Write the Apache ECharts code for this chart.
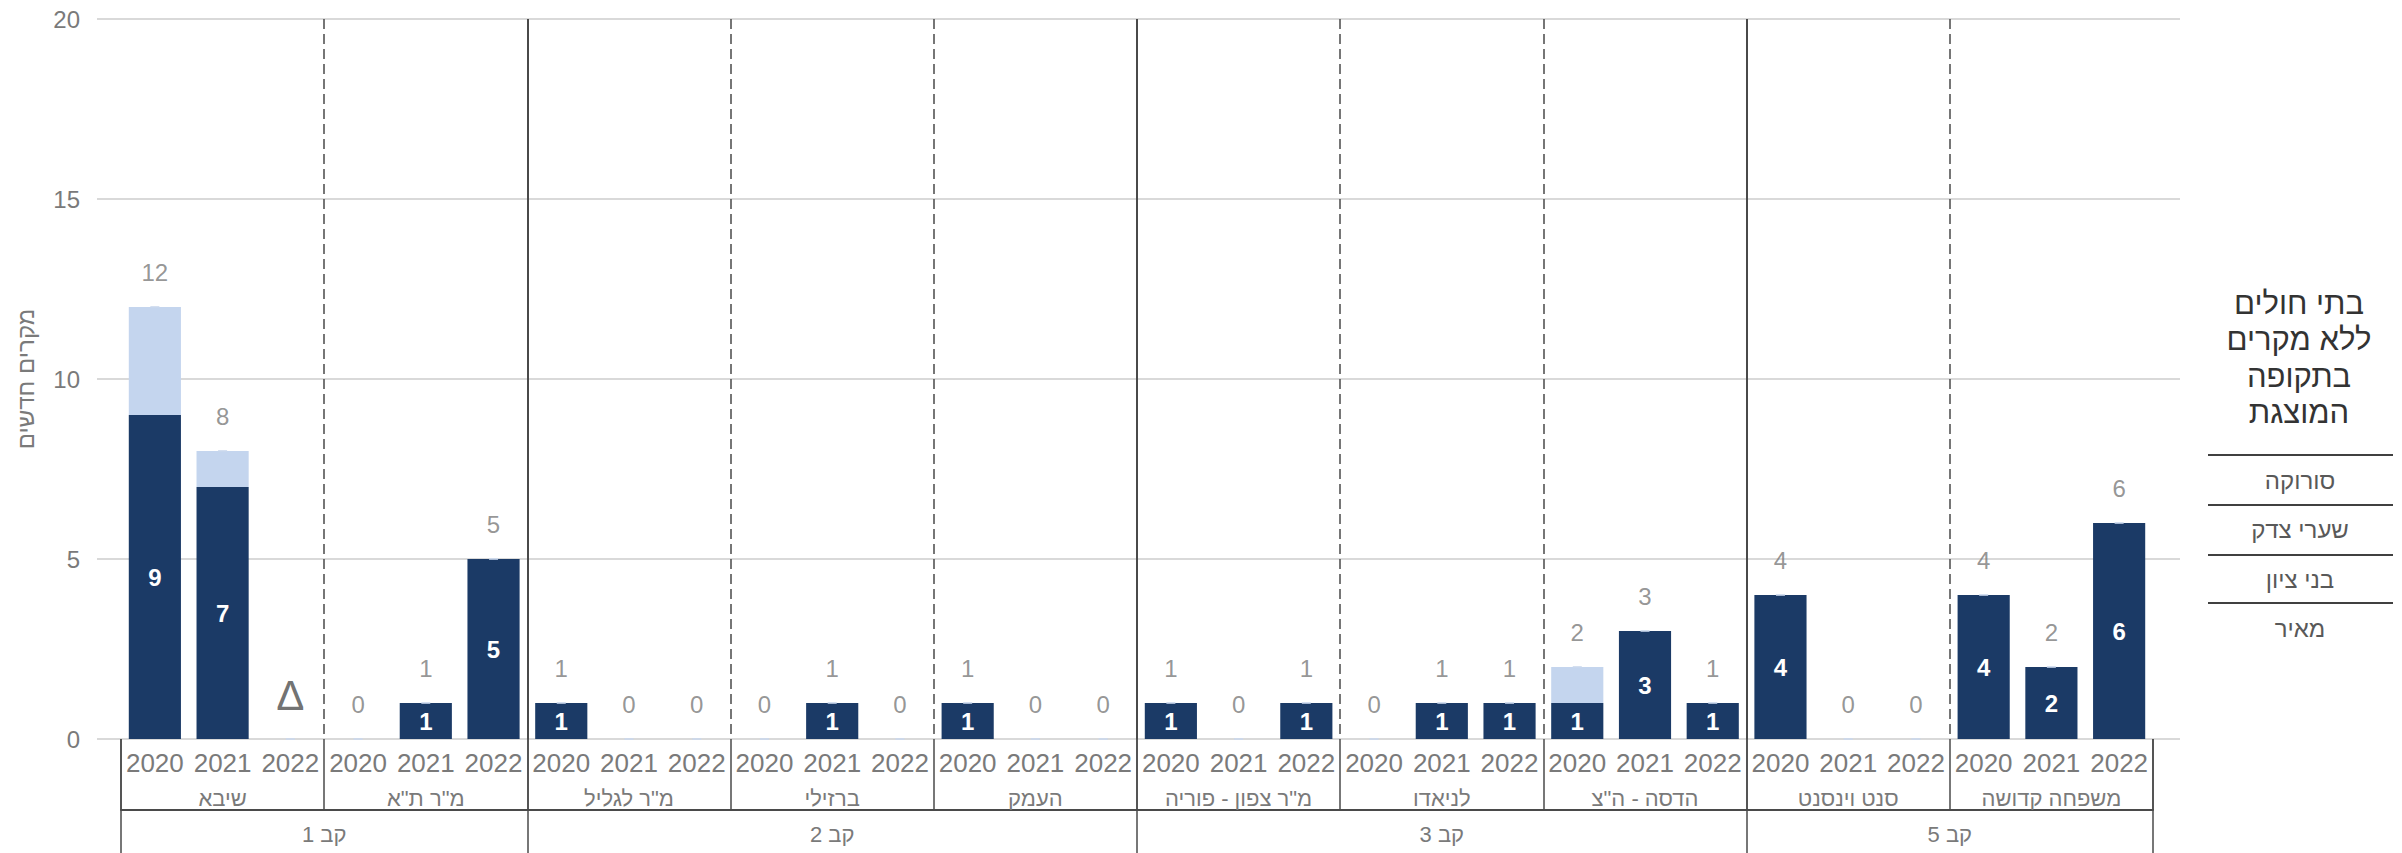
<!DOCTYPE html>
<html><head><meta charset="utf-8">
<script src="https://cdn.jsdelivr.net/npm/echarts@6/dist/echarts.min.js"></script>
<style>html,body{margin:0;padding:0;background:#fff}#c{width:2402px;height:853px}</style>
</head><body><div id="c"></div>
<script>
// ---------------- data ----------------
const years = ['2020', '2021', '2022'];
const hospitals = ['שיבא', 'מ"ר ת"א', 'מ"ר לגליל', 'ברזילי', 'העמק', 'מ"ר צפון - פוריה', 'לניאדו', 'הדסה - ה"צ', 'סנט וינסנט', 'משפחה קדושה'];
const clusters = ['קב 1', 'קב 2', 'קב 3', 'קב 5'];
const clusterSizes = [2, 3, 3, 2];           // hospitals per cluster
const darkValues = [9, 7, 0,  0, 1, 5,  1, 0, 0,  0, 1, 0,  1, 0, 0,  1, 0, 1,  0, 1, 1,  1, 3, 1,  4, 0, 0,  4, 2, 6];
const lightValues = [3, 1, 0,  0, 0, 0,  0, 0, 0,  0, 0, 0,  0, 0, 0,  0, 0, 0,  0, 0, 0,  1, 0, 0,  0, 0, 0,  0, 0, 0];
const deltaMarked = [2];                      // bar index shown with "∆" instead of a total
const yTicks = { min: 0, max: 20, interval: 5 };
const noCaseTitle = ['בתי חולים', 'ללא מקרים', 'בתקופה', 'המוצגת'];
const noCaseHospitals = ['סורוקה', 'שערי צדק', 'בני ציון', 'מאיר'];

// ---------------- derived ----------------
const categories = [];
hospitals.forEach((h, i) => years.forEach(y => categories.push(h + '|' + y)));
const totals = darkValues.map((v, i) => v + lightValues[i]);
const clusterStarts = [];
let acc = 0;
clusterSizes.forEach(s => { clusterStarts.push(acc); acc += s; });
const clusterCenters = clusterSizes.map((s, i) => clusterStarts[i] * years.length + s * years.length / 2);
const nYears = categories.length;

const FONT = '"Liberation Sans", Arial, "DejaVu Sans", sans-serif';
const GREY = '#7a7a7a';
const LINE = '#4a4a4a';

const chart = echarts.init(document.getElementById('c'), null, { renderer: 'svg' });

const option = {
  backgroundColor: '#ffffff',
  animation: false,
  textStyle: { fontFamily: FONT },
  grid: [
    { left: 121, right: 249, top: 19, bottom: 114, outerBoundsMode: 'none', containLabel: false },
    { left: 97, right: 222, top: 19, bottom: 114, outerBoundsMode: 'none', containLabel: false }
  ],
  xAxis: [
    { // years
      type: 'category', gridIndex: 0, data: categories, position: 'bottom',
      axisLine: { show: false }, axisTick: { show: false }, splitLine: { show: false },
      axisLabel: { interval: 0, margin: 11, fontSize: 26, color: GREY, fontFamily: FONT,
        formatter: v => v.split('|')[1] }
    },
    { // hospitals + dashed separators inside clusters
      type: 'category', gridIndex: 0, data: hospitals, position: 'bottom',
      axisLine: { show: false },
      axisTick: { show: true, length: 71, interval: 0, lineStyle: { color: LINE, width: 1.5 } },
      axisLabel: { interval: 0, margin: 48, fontSize: 22, color: GREY, fontFamily: FONT },
      splitLine: { show: true, showMinLine: false, showMaxLine: false,
        interval: (i) => i === 0 || clusterStarts.indexOf(i) < 0,
        lineStyle: { color: LINE, width: 1.5, type: [10, 5] } }
    },
    { // cluster separators (solid)
      type: 'category', gridIndex: 0, data: hospitals, position: 'bottom',
      axisLine: { show: false }, axisLabel: { show: false },
      axisTick: { show: true, length: 114, interval: (i) => clusterStarts.indexOf(i) >= 0,
        lineStyle: { color: LINE, width: 1.5 } },
      splitLine: { show: true, showMinLine: false, showMaxLine: false,
        interval: (i) => clusterStarts.indexOf(i) >= 0,
        lineStyle: { color: LINE, width: 2 } }
    },
    { // cluster labels row
      type: 'value', gridIndex: 0, min: 0, max: nYears, interval: 1.5, position: 'bottom', offset: 71,
      axisLine: { show: true, lineStyle: { color: LINE, width: 2 } },
      axisTick: { show: false }, splitLine: { show: false },
      axisLabel: { margin: 13, fontSize: 22, color: GREY, fontFamily: FONT, showMinLabel: true, showMaxLabel: true,
        formatter: v => { const k = clusterCenters.findIndex(c => Math.abs(c - v) < 1e-6); return k >= 0 ? clusters[k] : ''; } }
    },
    { type: 'value', gridIndex: 1, show: false, min: 0, max: 1 }
  ],
  yAxis: [
    { type: 'value', gridIndex: 0, min: yTicks.min, max: yTicks.max, interval: yTicks.interval, show: false, splitLine: { show: false } },
    { type: 'value', gridIndex: 1, min: yTicks.min, max: yTicks.max, interval: yTicks.interval,
      axisLine: { show: false }, axisTick: { show: false },
      splitLine: { show: true, lineStyle: { color: '#d9d9d9', width: 2 } },
      axisLabel: { margin: 17, fontSize: 24, color: GREY, fontFamily: FONT },
      name: 'מקרים חדשים', nameLocation: 'middle', nameRotate: 90, nameGap: 60,
      nameTextStyle: { fontSize: 24, color: GREY, fontFamily: FONT } }
  ],
  series: [
    { name: 'dark', type: 'bar', stack: 'a', xAxisIndex: 0, yAxisIndex: 0, data: darkValues,
      barWidth: '77%', itemStyle: { color: '#1b3a66' },
      label: { show: true, position: 'inside', color: '#ffffff', fontSize: 24, fontWeight: 'bold', fontFamily: FONT,
        formatter: p => p.value ? String(p.value) : '' } },
    { name: 'light', type: 'bar', stack: 'a', xAxisIndex: 0, yAxisIndex: 0, data: lightValues,
      barWidth: '77%', itemStyle: { color: '#c4d5ee' }, label: { show: false } },
    { name: 'total', type: 'scatter', xAxisIndex: 0, yAxisIndex: 0, data: totals, z: 5,
      symbol: 'rect', symbolSize: [9, 2], itemStyle: { color: '#c9d7ec' },
      label: { show: true, position: 'top', distance: 22, fontSize: 24, color: GREY, fontFamily: FONT,
        formatter: p => deltaMarked.indexOf(p.dataIndex) >= 0 ? '{d|∆}' : String(p.value),
        rich: { d: { fontSize: 42, color: '#4d4d4d', fontFamily: FONT } } } }
  ],
  graphic: noCaseTitle.map((t, i) => ({
    type: 'text', x: 2299, y: 303 + i * 36.5, style: {
      text: t, fontSize: 31, fill: '#333333', fontFamily: FONT, align: 'center', verticalAlign: 'middle' }
  })).concat([455, 505, 555, 603].map(y => ({
    type: 'line', shape: { x1: 2208, y1: y, x2: 2393, y2: y }, style: { stroke: '#404040', lineWidth: 2 }
  }))).concat(noCaseHospitals.map((h, i) => ({
    type: 'text', x: 2300, y: 480 + i * 49.5, style: {
      text: h, fontSize: 24, fill: '#595959', fontFamily: FONT, align: 'center', verticalAlign: 'middle' }
  })))
};
chart.setOption(option);
</script>
</body></html>
